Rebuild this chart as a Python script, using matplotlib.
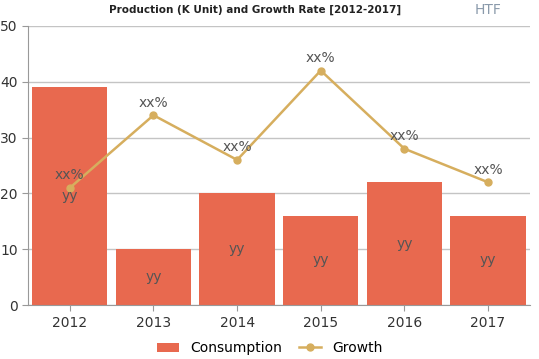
import matplotlib.pyplot as plt
import numpy as np

years = ['2012', '2013', '2014', '2015', '2016', '2017']
consumption = [39, 10, 20, 16, 22, 16]
growth = [21, 34, 26, 42, 28, 22]
bar_labels = ['yy'] * 6
growth_labels = ['xx%'] * 6

bar_color = '#E8694F'
line_color = '#D6AE5E'

fig = plt.figure(figsize=(5.39, 3.59), dpi=100)
ax = fig.add_axes([0.052, 0.150, 0.931, 0.778])

x = np.arange(len(years))
bars = ax.bar(x, consumption, width=0.9, color=bar_color, zorder=2, label='Consumption')
line, = ax.plot(x, growth, color=line_color, marker='o', markersize=5, linewidth=1.8,
                zorder=3, label='Growth')

for xi, v, lab in zip(x, consumption, bar_labels):
    ax.text(xi, v / 2, lab, ha='center', va='center', fontsize=10, color='#555555', zorder=4)
for xi, v, lab in zip(x, growth, growth_labels):
    ax.text(xi, v + 1.0, lab, ha='center', va='bottom', fontsize=10, color='#555555', zorder=4)

ax.set_xlim(-0.5, len(years) - 0.5)
ax.set_ylim(0, 50)
ax.set_yticks(range(0, 51, 10))
ax.set_xticks(x)
ax.set_xticklabels(years)
ax.tick_params(axis='both', labelsize=10, colors='#333333', length=4)
ax.tick_params(axis='both', color='#999999')
ax.grid(axis='y', color='#c4c4c4', linewidth=1, zorder=0)
for s in ['top', 'right']:
    ax.spines[s].set_visible(False)
ax.spines['left'].set_color('#999999')
ax.spines['bottom'].set_color('#999999')

# title
fig.text(0.474, 0.972, 'Production (K Unit) and Growth Rate [2012-2017]', ha='center', va='center',
         fontsize=7.5, fontweight='heavy', family='DejaVu Sans', color='#222222')
fig.text(0.905, 0.972, 'HTF', ha='center', va='center', fontsize=10, color='#8a9aab')

fig.legend(handles=[bars, line], loc='center', bbox_to_anchor=(0.5, 0.03), ncol=2,
           frameon=False, fontsize=10, handlelength=1.6, columnspacing=1.2)

plt.savefig('out.png', dpi=100)
